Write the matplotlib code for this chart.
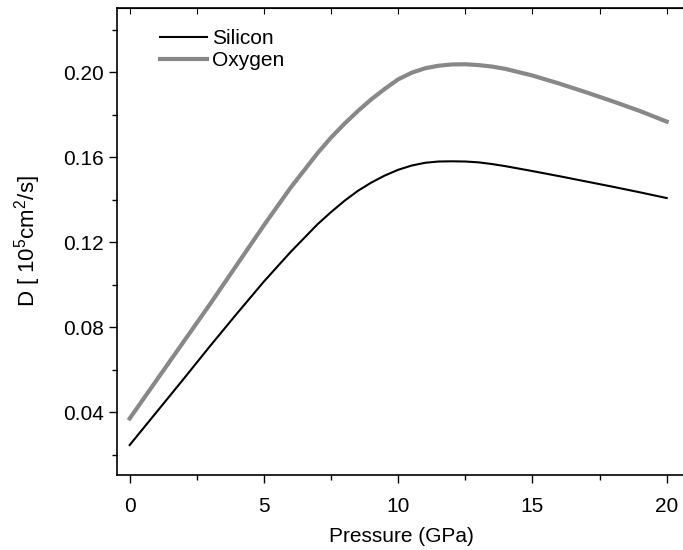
import matplotlib
matplotlib.use("Agg")
import matplotlib.pyplot as plt
from matplotlib.ticker import MultipleLocator, FormatStrFormatter

plt.rcParams['font.family'] = ['Liberation Sans', 'DejaVu Sans']
plt.rcParams['mathtext.fontset'] = 'custom'
plt.rcParams['mathtext.rm'] = 'Liberation Sans'
plt.rcParams['mathtext.it'] = 'Liberation Sans'

pressure = [0, 1, 2, 3, 4, 5, 6, 7, 7.5, 8, 8.5, 9, 9.5, 10, 10.5,
            11, 11.5, 12, 12.5, 13, 13.5, 14, 15, 16, 17, 18, 19, 20]
silicon = [0.0245, 0.040, 0.0555, 0.0712, 0.0865, 0.1015, 0.1155, 0.1285, 0.1342, 0.1395,
           0.1442, 0.1481, 0.1514, 0.1541, 0.1561, 0.1574, 0.1580, 0.1581, 0.1580, 0.1576,
           0.1568, 0.1558, 0.1535, 0.1511, 0.1486, 0.1461, 0.1435, 0.1408]
oxygen = [0.037, 0.055, 0.073, 0.091, 0.1095, 0.128, 0.1458, 0.162, 0.1693, 0.1758,
          0.1818, 0.1873, 0.1922, 0.1967, 0.1998, 0.2019, 0.2031, 0.2037, 0.2038, 0.2034,
          0.2027, 0.2016, 0.1985, 0.1947, 0.1906, 0.1863, 0.1818, 0.1768]

fig = plt.figure(figsize=(6.83, 5.5), dpi=100)
ax = fig.add_axes([0.171, 0.1364, 0.8346, 0.8491])

ax.plot(pressure, silicon, color='black', lw=1.5, label='Silicon')
ax.plot(pressure, oxygen, color='#888888', lw=3, label='Oxygen')

ax.set_xlim(-0.48, 20.75)
ax.set_ylim(0.0104, 0.2303)
ax.xaxis.set_major_locator(MultipleLocator(5))
ax.xaxis.set_minor_locator(MultipleLocator(2.5))
ax.yaxis.set_major_locator(MultipleLocator(0.04))
ax.yaxis.set_minor_locator(MultipleLocator(0.02))
ax.yaxis.set_major_formatter(FormatStrFormatter('%.2f'))
ax.xaxis.set_major_formatter(FormatStrFormatter('%d'))

ax.tick_params(axis='both', which='both', direction='out', labelsize=15, width=1)
ax.tick_params(which='major', length=6)
ax.tick_params(which='minor', length=3.5)
ax.tick_params(axis='x', which='major', pad=10)
sec_x = ax.secondary_xaxis('top')
sec_x.xaxis.set_major_locator(MultipleLocator(2.5))
sec_x.tick_params(direction='in', length=4)
sec_x.set_xticklabels([])

for s in ax.spines.values():
    s.set_linewidth(1.2)

ax.set_xlabel('Pressure (GPa)', fontsize=15, labelpad=8)
ax.set_ylabel('D [ 10$^5$cm$^2$/s]', fontsize=16, labelpad=14)

ax.legend(loc='upper left', frameon=False, fontsize=15, handlelength=2.3,
          borderaxespad=0, borderpad=0, bbox_to_anchor=(0.075, 0.955),
          labelspacing=0.15, handletextpad=0.2)

fig.savefig('out.png', dpi=100)
